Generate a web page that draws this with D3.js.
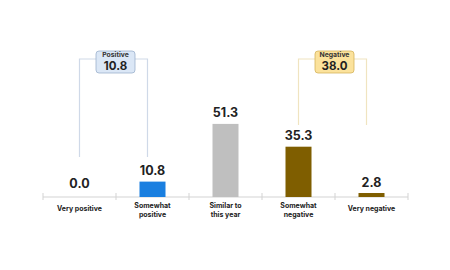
<!DOCTYPE html>
<html><head><meta charset="utf-8">
<script src="https://cdn.jsdelivr.net/npm/d3@7"></script>
<style>body{margin:0;background:#fff}svg{display:block}</style>
</head><body>
<script>
const categories = [["Very positive"],["Somewhat","positive"],["Similar to","this year"],["Somewhat","negative"],["Very negative"]];
const keys = ["vp","sp","st","sn","vn"];
const values = [0.0, 10.8, 51.3, 35.3, 2.8];
const barColors = ["#1a7fe0","#1a7fe0","#bfbfbf","#7f5e00","#7f5e00"];
const groups = [
  {label:"Positive", value:10.8, from:0, to:1},
  {label:"Negative", value:38.0, from:3, to:4}
];

const W=450,H=270;
const svg=d3.select("body").append("svg").attr("width",W).attr("height",H);
const font="Inter, Roboto, 'Noto Sans', sans-serif";
const x=d3.scaleBand().domain(keys).range([43,408]).paddingInner(0).paddingOuter(0);
const y=d3.scaleLinear().domain([0,100]).range([197,54.5]);
const bw=26;

svg.append("line").attr("x1",43).attr("x2",408).attr("y1",197).attr("y2",197).attr("stroke","#d3d3d3").attr("stroke-width",1);
const ticks=[0,1,2,3,4,5].map(i=>i<5?x(keys[i]):x(keys[4])+x.bandwidth());
svg.selectAll(".tk").data(ticks).enter().append("line")
  .attr("x1",d=>d).attr("x2",d=>d).attr("y1",193).attr("y2",200).attr("stroke","#d3d3d3");

const cx=k=>x(k)+x.bandwidth()/2;
svg.selectAll(".bar").data(values).enter().append("rect")
  .attr("x",(d,i)=>cx(keys[i])-bw/2).attr("width",bw)
  .attr("y",d=>y(d)).attr("height",d=>y(0)-y(d))
  .attr("fill",(d,i)=>barColors[i]);

svg.selectAll(".val").data(values).enter().append("text")
  .attr("x",(d,i)=>cx(keys[i])).attr("y",d=>y(d)-(d===0?9:6.5))
  .attr("text-anchor","middle").attr("font-family",font).attr("font-weight",700)
  .attr("font-size",12.5).attr("fill","#222").text(d=>d.toFixed(1));

categories.forEach((lines,i)=>{
  const t=svg.append("text").attr("text-anchor","middle").attr("font-family",font)
    .attr("font-weight",700).attr("font-size",7).attr("fill","#222");
  const y0 = lines.length===1?211:208;
  lines.forEach((l,j)=>t.append("tspan").attr("x",cx(keys[i])).attr("y",y0+j*8.5).text(l));
});

const gStyles=[
  {line:"#cfd9e8", fill:"#dbe7f6", stroke:"#9cb1cd", bottom:157},
  {line:"#f0e4c0", fill:"#fbe29c", stroke:"#d6b45a", bottom:125}
];
groups.forEach((g,gi)=>{
  const s=gStyles[gi];
  const x1=cx(keys[g.from]), x2=cx(keys[g.to])-5;
  svg.append("path").attr("d",`M${x1},${s.bottom}V59H${x2}V${s.bottom}`)
    .attr("fill","none").attr("stroke",s.line).attr("stroke-width",1.2);
  const mx=(x1+x2)/2+2;
  svg.append("rect").attr("x",mx-19.5).attr("y",51).attr("width",39).attr("height",22).attr("rx",3)
    .attr("fill",s.fill).attr("stroke",s.stroke).attr("stroke-width",0.8);
  svg.append("text").attr("x",mx).attr("y",57.3).attr("text-anchor","middle").attr("font-family",font)
    .attr("font-weight",700).attr("font-size",6.8).attr("fill","#333").text(g.label);
  svg.append("text").attr("x",mx).attr("y",70).attr("text-anchor","middle").attr("font-family",font)
    .attr("font-weight",700).attr("font-size",11.5).attr("fill","#222").text(g.value.toFixed(1));
});
</script>
</body></html>
